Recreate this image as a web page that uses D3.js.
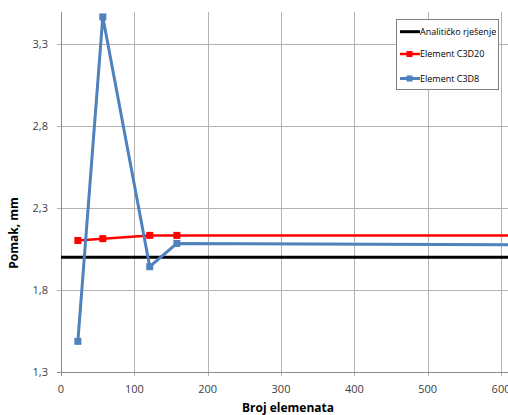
<!DOCTYPE html>
<html><head><meta charset="utf-8">
<script src="https://cdn.jsdelivr.net/npm/d3@7"></script>
<style>body{margin:0;background:#fff;}svg{display:block;}</style>
</head><body>
<svg id="c" width="508" height="415"></svg>
<script>
const xTicks = [0, 100, 200, 300, 400, 500, 600];
const yTicks = [1.3, 1.8, 2.3, 2.8, 3.3];
const xAnalytic = [0, 1000];
const yAnalytic = [2.0, 2.0];
const xC3D20 = [23, 57, 121, 158, 1000];
const yC3D20 = [2.102, 2.113, 2.133, 2.133, 2.133];
const xC3D8 = [23, 57, 121, 158, 1000];
const yC3D8 = [1.487, 3.465, 1.942, 2.084, 2.069];
const seriesNames = ["Analitičko rješenje", "Element C3D20", "Element C3D8"];
const seriesColors = ["#000000", "#ff0000", "#4f81bd"];

const svg = d3.select("#c");
const L = 61, R = 508, T = 12, B = 372;
const x = d3.scaleLinear().domain([0, 609.5]).range([L, R]);
const y = d3.scaleLinear().domain([1.3, 3.495]).range([B, T]);
const font = "'Open Sans', sans-serif";
const fmt = v => v.toFixed(1).replace(".", ",");

svg.append("defs").append("clipPath").attr("id", "clip")
  .append("rect").attr("x", L).attr("y", 0).attr("width", R - L).attr("height", B);

// grid
const grid = svg.append("g").attr("stroke", "#b3b3b3").attr("stroke-width", 1);
xTicks.forEach(t => {
  grid.append("line").attr("x1", Math.round(x(t)) + 0.5).attr("x2", Math.round(x(t)) + 0.5)
    .attr("y1", T).attr("y2", B + 4);
});
yTicks.forEach(t => {
  grid.append("line").attr("x1", L - 4).attr("x2", R)
    .attr("y1", Math.round(y(t)) + 0.5).attr("y2", Math.round(y(t)) + 0.5);
});
// axes lines
svg.append("line").attr("x1", L + 0.5).attr("x2", L + 0.5).attr("y1", T).attr("y2", B + 4).attr("stroke", "#8c8c8c");
svg.append("line").attr("x1", L - 4).attr("x2", R).attr("y1", B + 0.5).attr("y2", B + 0.5).attr("stroke", "#8c8c8c");

// tick labels
svg.append("g").selectAll("text").data(yTicks).join("text")
  .attr("x", 48).attr("y", d => y(d)).attr("dy", "0.35em").attr("text-anchor", "end")
  .attr("font-family", font).attr("font-size", 11).attr("fill", "#404040").text(fmt);
svg.append("g").selectAll("text").data(xTicks).join("text")
  .attr("x", d => x(d)).attr("y", 389).attr("dy", "0.35em").attr("text-anchor", "middle")
  .attr("font-family", font).attr("font-size", 11).attr("fill", "#404040").text(d => d);

// titles
svg.append("text").attr("x", 288).attr("y", 408).attr("dy", "0.35em").attr("text-anchor", "middle")
  .attr("font-family", font).attr("font-weight", "bold").attr("font-size", 12).attr("fill", "#000")
  .text("Broj elemenata");
svg.append("text").attr("transform", "translate(14,233) rotate(-90)").attr("dy", "0.35em").attr("text-anchor", "middle")
  .attr("font-family", font).attr("font-weight", "bold").attr("font-size", 12).attr("fill", "#000")
  .text("Pomak, mm");

// series
const plot = svg.append("g").attr("clip-path", "url(#clip)");
const line = d3.line().x(d => x(d[0])).y(d => y(d[1]));
const series = [
  {xs: xAnalytic, ys: yAnalytic, w: 3, marker: false},
  {xs: xC3D20, ys: yC3D20, w: 2.5, marker: true},
  {xs: xC3D8, ys: yC3D8, w: 3, marker: true}
];
series.forEach((s, i) => {
  const pts = s.xs.map((v, j) => [v, s.ys[j]]);
  plot.append("path").attr("d", line(pts)).attr("fill", "none")
    .attr("stroke", seriesColors[i]).attr("stroke-width", s.w).attr("stroke-linejoin", "round");
  if (s.marker) {
    plot.selectAll(null).data(pts).join("rect")
      .attr("x", d => x(d[0]) - 3.5).attr("y", d => y(d[1]) - 3.5)
      .attr("width", 7).attr("height", 7).attr("fill", seriesColors[i]);
  }
});

// legend
const lg = svg.append("g");
lg.append("rect").attr("x", 396.5).attr("y", 19.5).attr("width", 102).attr("height", 70)
  .attr("fill", "#fff").attr("stroke", "#808080").attr("stroke-width", 1);
const rows = [31.7, 54, 78.5];
seriesNames.forEach((n, i) => {
  lg.append("line").attr("x1", 400).attr("x2", 420).attr("y1", rows[i]).attr("y2", rows[i])
    .attr("stroke", seriesColors[i]).attr("stroke-width", i === 1 ? 2.5 : 3);
  if (i > 0) lg.append("rect").attr("x", 406.5).attr("y", rows[i] - 3).attr("width", 6).attr("height", 6).attr("fill", seriesColors[i]);
  lg.append("text").attr("x", 420).attr("y", rows[i]).attr("dy", "0.35em")
    .attr("font-family", font).attr("font-size", 9).attr("fill", "#000").text(n);
});
</script>
</body></html>
